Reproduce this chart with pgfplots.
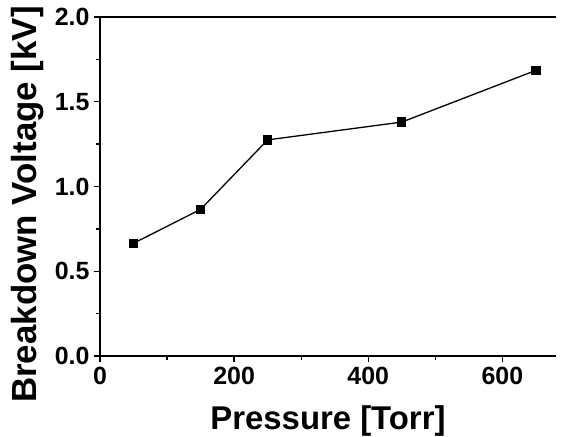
\documentclass[border=0pt]{standalone}
\usepackage{pgfplots}
\pgfplotsset{compat=1.18}
\usepackage{fontspec}
\setmainfont{Liberation Sans}
\begin{document}
\begin{tikzpicture}
\begin{axis}[
  scale only axis,
  width=456bp, height=339bp,
  xmin=0, xmax=680, ymin=0, ymax=2.0,
  axis x line*=bottom, axis y line*=left,
  axis line style={line width=1.6bp, -},
  xtick={0,200,400,600}, minor xtick={100,300,500},
  ytick={0,0.5,1.0,1.5,2.0}, minor ytick={0.25,0.75,1.25,1.75},
  tick align=outside,
  major tick length=6bp, minor tick length=4bp,
  every tick/.style={black, line width=1.3bp},
  /pgf/number format/assume math mode=true,
  yticklabel style={/pgf/number format/fixed, /pgf/number format/fixed zerofill, /pgf/number format/precision=1},
  ticklabel style={font=\fontsize{25}{30}\selectfont\bfseries},
  xticklabel style={yshift=-2bp},
  yticklabel style={xshift=-1bp},
  xlabel={Pressure [Torr]},
  ylabel={Breakdown Voltage [kV]},
  xlabel style={font=\fontsize{33}{40}\selectfont\bfseries, at={([yshift=-65bp]rel axis cs:0.5,0)}, anchor=center},
  ylabel style={font=\fontsize{35}{40}\selectfont\bfseries, at={([xshift=-72bp,yshift=-18bp]rel axis cs:0,0.5)}, anchor=center},
  clip=false,
]
\addplot[black, line width=1.3bp, mark=square*, mark size=4bp, mark options={solid}] coordinates {
  (50,0.665) (150,0.865) (250,1.275) (450,1.38) (650,1.685)
};
\draw[line width=1.6bp] (rel axis cs:0,1) ++(-6bp,0) -- (rel axis cs:1,1);
\coordinate (ll) at (rel axis cs:0,0);
\coordinate (ur) at (rel axis cs:1,1);
\end{axis}
\pgfresetboundingbox
\path[use as bounding box] ([shift={(-100bp,-81bp)}]ll) rectangle ([shift={(7bp,17bp)}]ur);
\end{tikzpicture}
\end{document}
